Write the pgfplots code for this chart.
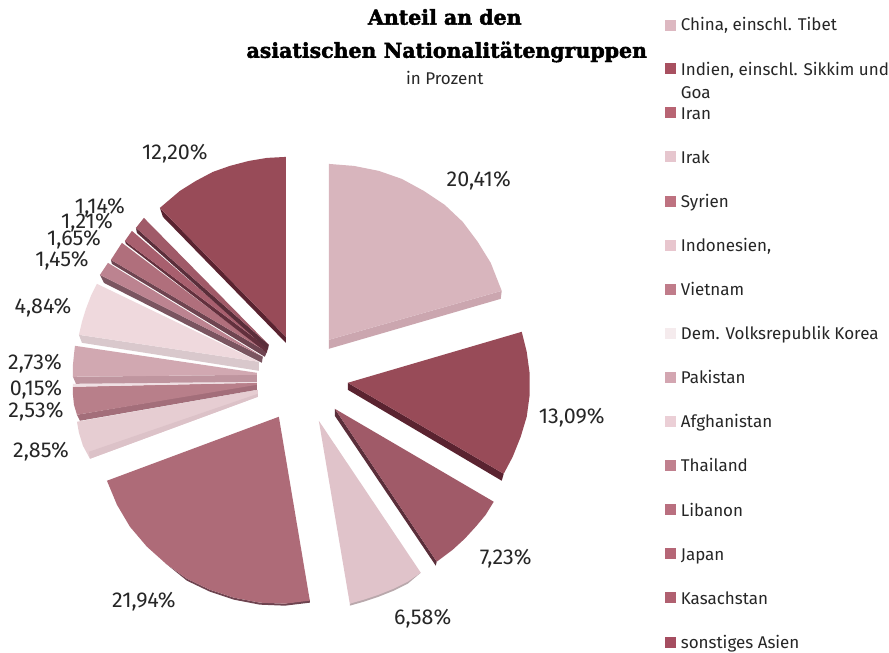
\documentclass[border=0pt]{standalone}
\usepackage{pgfplots}
\pgfplotsset{compat=1.18}
\usepackage{fontspec}
\setmainfont{Fira Sans}
\newfontfamily\titlefont{DejaVu Serif Bold}
\newcommand{\heavy}[1]{\special{pdf:code 2 Tr 0.45 w}#1\special{pdf:code 0 Tr 0.4 w}}
\definecolor{cChina}{HTML}{D8B5BD}\definecolor{cChinaS}{HTML}{CBA6AF}
\definecolor{cIndien}{HTML}{984B58}\definecolor{cIndienS}{HTML}{5A2330}
\definecolor{cIran}{HTML}{A05A68}\definecolor{cIranS}{HTML}{5A2E3A}
\definecolor{cIrak}{HTML}{E0C3CA}\definecolor{cIrakS}{HTML}{B9A8AC}
\definecolor{cSyr}{HTML}{AE6B78}\definecolor{cSyrS}{HTML}{6E4450}
\definecolor{cIndo}{HTML}{E6CDD2}\definecolor{cIndoS}{HTML}{DCC2C8}
\definecolor{cViet}{HTML}{B87F8A}\definecolor{cVietS}{HTML}{A36E7A}
\definecolor{cKor}{HTML}{F0E0E4}
\definecolor{cPak}{HTML}{D1A8B1}\definecolor{cPakS}{HTML}{BF959F}
\definecolor{cAfg}{HTML}{EFD9DD}\definecolor{cAfgS}{HTML}{D9C8CC}
\definecolor{cThai}{HTML}{BC8390}\definecolor{cThaiS}{HTML}{7A5560}
\definecolor{cLib}{HTML}{B06F7C}\definecolor{cLibS}{HTML}{6E4450}
\definecolor{cJap}{HTML}{A85F6E}\definecolor{cJapS}{HTML}{63303D}
\definecolor{cKas}{HTML}{A05A68}\definecolor{cKasS}{HTML}{5A2E3A}
\definecolor{lA}{HTML}{DDB8C1}\definecolor{lB}{HTML}{A85060}\definecolor{lC}{HTML}{B86473}
\definecolor{lD}{HTML}{E6C6CE}\definecolor{lE}{HTML}{BE7280}\definecolor{lF}{HTML}{E8C6CE}
\definecolor{lG}{HTML}{C07C8A}\definecolor{lH}{HTML}{F5EBED}\definecolor{lI}{HTML}{D3A6B1}
\definecolor{lJ}{HTML}{EBCFD6}\definecolor{lK}{HTML}{C0808E}\definecolor{lL}{HTML}{B96F7F}
\definecolor{lM}{HTML}{B56676}\definecolor{lN}{HTML}{B06070}\definecolor{lO}{HTML}{A54D60}
\definecolor{txt}{HTML}{262626}
\definecolor{ltxt}{HTML}{262626}
\tikzset{lab/.style={inner sep=0pt,text=txt,font=\fontsize{21.5}{21.5}\selectfont},
 leg/.style={inner sep=0pt,anchor=base west,text=ltxt,font=\fontsize{17}{17}\selectfont},
 ttl/.style={inner sep=0pt,text=black,font=\titlefont\fontsize{20.5}{20.5}\selectfont}}
\pgfplotsset{sq/.style={only marks, mark=square*, mark size=5pt, mark options={draw=#1,fill=#1,line width=0pt}}}
\begin{document}
\begin{tikzpicture}
\begin{axis}[
  scale only axis, width=889pt, height=652pt,
  xmin=0, xmax=889, ymin=0, ymax=652, y dir=reverse,
  hide axis, clip=false,
]
\addplot[fill=white,draw=none] coordinates {(0,0)(889,0)(889,652)(0,652)} -- cycle;
% China 20.41
\addplot[fill=cChinaS,draw=none] coordinates {(329,340)(502,291)(501,299)(329,349)} -- cycle;
\addplot[fill=cChina,draw=none] coordinates {(329,164)(354,166)(379,171)(402,179)(424,191)(445,205)(463,222)(478,242)(491,263)(502,291)(329,340)} -- cycle;
% Indien 13.09
\addplot[fill=cIndienS,draw=none] coordinates {(348,383)(504,474)(502,481)(348,390)} -- cycle;
\addplot[fill=cIndien,draw=none] coordinates {(348,383)(522,332)(527,352)(530,374)(530,395)(527,417)(521,437)(513,457)(504,474)} -- cycle;
% Iran 7.23
\addplot[fill=cIranS,draw=none] coordinates {(335,409)(437,562)(436,566)(335,416)} -- cycle;
\addplot[fill=cIran,draw=none] coordinates {(335,409)(494,502)(486,515)(476,527)(465,539)(453,550)(437,562)} -- cycle;
% Irak 6.58
\addplot[fill=cIrakS,draw=none] coordinates {(421,573)(408,584)(394,591)(379,597)(364,602)(350,606)(350,604)(421,573)} -- cycle;
\addplot[fill=cIrak,draw=none] coordinates {(319,421)(421,573)(408,582)(394,589)(379,595)(364,600)(350,604)} -- cycle;
% Syrien 21.94
\addplot[fill=cSyrS,draw=none] coordinates {(166,564)(187,581)(210,592)(234,600)(260,605)(285,606)(310,603)(310,600)(285,604)(260,603)(234,598)(210,590)(187,579)} -- cycle;
\addplot[fill=cSyr,draw=none] coordinates {(279,417)(107,481)(117,505)(130,527)(147,547)(166,564)(187,579)(210,590)(234,598)(260,603)(285,604)(310,601)} -- cycle;
% Indonesien 2.85
\addplot[fill=cIndo,draw=none] coordinates {(258,390)(77,422)(79,433)(83,446)(90,459)(258,397)} -- cycle;
\addplot[fill=cIndoS,draw=none] coordinates {(258,397)(90,459)(89,452)(258,394)} -- cycle;
% Vietnam 2.53
\addplot[fill=cVietS,draw=none] coordinates {(257,390)(80,421)(77,415)(257,384)} -- cycle;
\addplot[fill=cViet,draw=none] coordinates {(257,383)(73,387)(73,395)(74,405)(77,415)(257,385)} -- cycle;
% Korea 0.15
\addplot[fill=cKor,draw=none] coordinates {(257,382)(73,384)(73,387)(257,383)} -- cycle;
% Pakistan 2.73
\addplot[fill=cPakS,draw=none] coordinates {(257,375)(73,377)(76,384)(257,382)} -- cycle;
\addplot[fill=cPak,draw=none] coordinates {(75,346)(74,355)(73,365)(73,377)(257,375)(257,373)} -- cycle;
% Afghanistan 4.84
\addplot[fill=cAfgS,draw=none] coordinates {(79,335)(82,343)(259,371)(259,362)} -- cycle;
\addplot[fill=cAfg,draw=none] coordinates {(97,284)(91,296)(86,309)(82,322)(79,335)(259,362)} -- cycle;
% Thailand 1.45
\addplot[fill=cThaiS,draw=none] coordinates {(100,275)(104,283)(262,363)(263,357)} -- cycle;
\addplot[fill=cThai,draw=none] coordinates {(108,263)(100,275)(263,357)} -- cycle;
% Libanon 1.65
\addplot[fill=cLibS,draw=none] coordinates {(111,260)(112,264)(265,357)(267,352)} -- cycle;
\addplot[fill=cLib,draw=none] coordinates {(122,243)(111,260)(267,352)} -- cycle;
% Japan 1.21
\addplot[fill=cJapS,draw=none] coordinates {(125,241)(126,244)(267,353)(268,348)} -- cycle;
\addplot[fill=cJap,draw=none] coordinates {(132,231)(125,241)(268,348)} -- cycle;
% Kasachstan 1.14
\addplot[fill=cKasS,draw=none] coordinates {(136,228)(137,233)(268,350)(269,345)} -- cycle;
\addplot[fill=cKas,draw=none] coordinates {(144,218)(136,228)(269,345)} -- cycle;
% sonstiges 12.20
\addplot[fill=cIndienS,draw=none] coordinates {(160,208)(163,217)(286,343)(286,337)} -- cycle;
\addplot[fill=cIndien,draw=none] coordinates {(286,157)(267,158)(249,161)(230,166)(213,172)(196,181)(180,191)(160,208)(286,337)} -- cycle;
% legend squares
\addplot[sq=lA] coordinates {(671,26)};
\addplot[sq=lB] coordinates {(671,69)};
\addplot[sq=lC] coordinates {(671,113)};
\addplot[sq=lD] coordinates {(671,157)};
\addplot[sq=lE] coordinates {(671,202)};
\addplot[sq=lF] coordinates {(671,246)};
\addplot[sq=lG] coordinates {(671,290)};
\addplot[sq=lH] coordinates {(671,334)};
\addplot[sq=lI] coordinates {(671,378)};
\addplot[sq=lJ] coordinates {(671,422)};
\addplot[sq=lK] coordinates {(671,466)};
\addplot[sq=lL] coordinates {(671,510)};
\addplot[sq=lM] coordinates {(671,554)};
\addplot[sq=lN] coordinates {(671,598)};
\addplot[sq=lO] coordinates {(671,642.5)};
% data labels
\node[lab] at (axis cs:175,154) {12,20\%};
\node[lab] at (axis cs:479,181) {20,41\%};
\node[lab] at (axis cs:572,418) {13,09\%};
\node[lab] at (axis cs:506,559) {7,23\%};
\node[lab] at (axis cs:423,619) {6,58\%};
\node[lab] at (axis cs:144,602) {21,94\%};
\node[lab] at (axis cs:41,452) {2,85\%};
\node[lab] at (axis cs:36,412) {2,53\%};
\node[lab] at (axis cs:36,390) {0,15\%};
\node[lab] at (axis cs:35,364) {2,73\%};
\node[lab] at (axis cs:43,308) {4,84\%};
\node[lab] at (axis cs:62,261) {1,45\%};
\node[lab] at (axis cs:74,240) {1,65\%};
\node[lab] at (axis cs:87,223) {1,21\%};
\node[lab] at (axis cs:100,208) {1,14\%};
% titles
\node[ttl] at (axis cs:445,17) {\heavy{Anteil an den}};
\node[ttl] at (axis cs:447,52) {\heavy{asiatischen Nationalitätengruppen}};
\node[inner sep=0pt,text=ltxt,font=\fontsize{17}{17}\selectfont] at (axis cs:445,78) {in Prozent};
% legend text
\node[leg] at (axis cs:681,31) {China, einschl. Tibet};
\node[leg] at (axis cs:681,76) {Indien, einschl. Sikkim und};
\node[leg] at (axis cs:681,99) {Goa};
\node[leg] at (axis cs:681,120) {Iran};
\node[leg] at (axis cs:681,164) {Irak};
\node[leg] at (axis cs:681,208) {Syrien};
\node[leg] at (axis cs:681,252) {Indonesien,};
\node[leg] at (axis cs:681,296) {Vietnam};
\node[leg] at (axis cs:681,340) {Dem. Volksrepublik Korea};
\node[leg] at (axis cs:681,384) {Pakistan};
\node[leg] at (axis cs:681,428) {Afghanistan};
\node[leg] at (axis cs:681,472) {Thailand};
\node[leg] at (axis cs:681,517) {Libanon};
\node[leg] at (axis cs:681,561) {Japan};
\node[leg] at (axis cs:681,605) {Kasachstan};
\node[leg] at (axis cs:681,649) {sonstiges Asien};
\end{axis}
\end{tikzpicture}
\end{document}
